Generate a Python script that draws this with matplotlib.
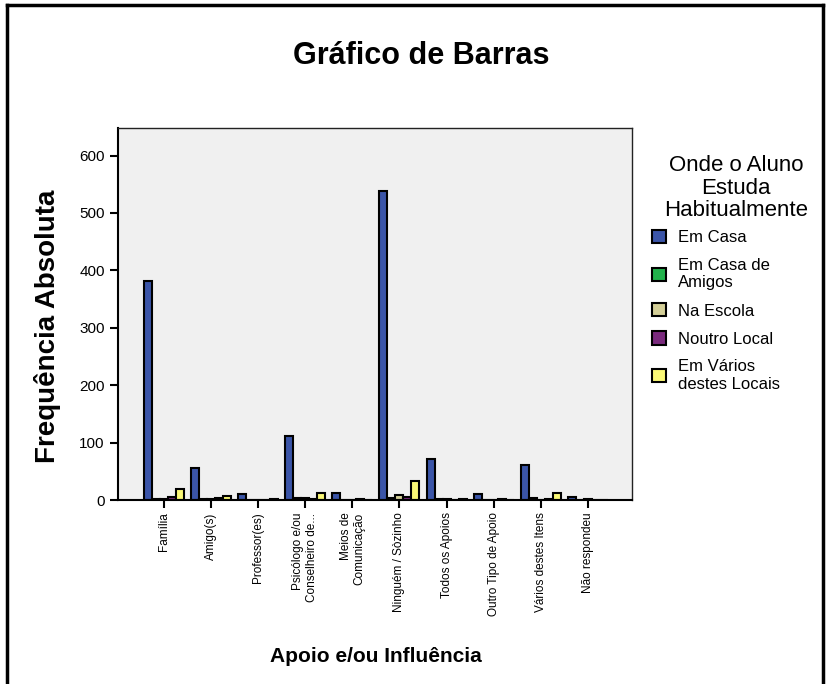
import matplotlib
matplotlib.use("Agg")
import matplotlib.pyplot as plt
from matplotlib.lines import Line2D
from matplotlib.patches import Patch
import numpy as np

plt.rcParams['font.family'] = ['Liberation Sans', 'DejaVu Sans']

categories = ["Família", "Amigo(s)", "Professor(es)", "Psicólogo e/ou\nConselheiro de...",
              "Meios de\nComunicação", "Ninguém / Sòzinho", "Todos os Apoios",
              "Outro Tipo de Apoio", "Vários destes Itens", "Não respondeu"]

series_names = ["Em Casa", "Em Casa de\nAmigos", "Na Escola", "Noutro Local",
                "Em Vários\ndestes Locais"]

em_casa = [381, 56, 10, 111, 13, 538, 71, 10, 61, 5]
em_casa_amigos = [1, 1, 0, 4, 0, 4, 1, 0, 3, 0]
na_escola = [2, 1, 0, 4, 0, 9, 1, 0, 0, 1]
noutro_local = [6, 4, 0, 1, 2, 6, 0, 1, 1, 0]
varios_locais = [19, 7, 1, 13, 0, 33, 2, 0, 13, 0]

series = [em_casa, em_casa_amigos, na_escola, noutro_local, varios_locais]
colors = ["#3B55A8", "#22B24C", "#D4CF98", "#7A2A7D", "#FAF876"]

fig = plt.figure(figsize=(8.31, 6.84), dpi=100)
W, H = 831, 684
ax = fig.add_axes([118 / W, 1 - 500 / H, (632 - 118) / W, (500 - 128) / H])
ax.set_facecolor("#F0F0F0")

x = np.arange(len(categories))
width = 0.17
offsets = (np.arange(len(series)) - 2) * width
for vals, off, col in zip(series, offsets, colors):
    ax.bar(x + off, vals, width=width, color=col, edgecolor="black", linewidth=1.5)

ax.set_xlim(-0.98, 9.94)
ax.set_ylim(0, 648)
ax.set_yticks([0, 100, 200, 300, 400, 500, 600])
ax.tick_params(axis='y', labelsize=11, length=6, width=1.5, direction='out')
ax.set_xticks(x)
ax.set_xticklabels(categories, rotation=90, fontsize=8.5, ha='center', va='top',
                   multialignment='right')
ax.tick_params(axis='x', length=6, width=1.5, direction='out', pad=3)

for side in ['top', 'right']:
    ax.spines[side].set_linewidth(1.0)
    ax.spines[side].set_color('#222222')
for side in ['left', 'bottom']:
    ax.spines[side].set_linewidth(1.5)

fig.text(48 / W, 1 - 326 / H, "Frequência Absoluta", fontsize=20, fontweight='bold',
         rotation=90, ha='center', va='center')
fig.text(376 / W, 1 - 657 / H, "Apoio e/ou Influência", fontsize=15,
         fontweight='bold', ha='center', va='center')
fig.text(421 / W, 1 - 56 / H, "Gráfico de Barras", fontsize=22,
         fontweight='bold', ha='center', va='center')

# legend title and entries
fig.text(736 / W, 1 - 188 / H, "Onde o Aluno\nEstuda\nHabitualmente", fontsize=16,
         ha='center', va='center', multialignment='center', linespacing=1.12)

handles = [Patch(facecolor=c, edgecolor='black', linewidth=1.5) for c in colors]
leg = fig.legend(handles, series_names, loc='upper left',
                 bbox_to_anchor=(652 / W, 1 - 230 / H),
                 fontsize=12, frameon=False, borderaxespad=0, borderpad=0,
                 handlelength=0.85, handleheight=0.85, handletextpad=0.72,
                 labelspacing=0.76)

# outer frame: left, top and right edges
for xs, ys in [([7, 7], [684, 5]), ([7, 823], [5, 5]), ([823, 823], [5, 684])]:
    fig.add_artist(Line2D([v / W for v in xs], [1 - v / H for v in ys],
                          transform=fig.transFigure, color='black', linewidth=2.5))

fig.savefig("out.png", dpi=100)
